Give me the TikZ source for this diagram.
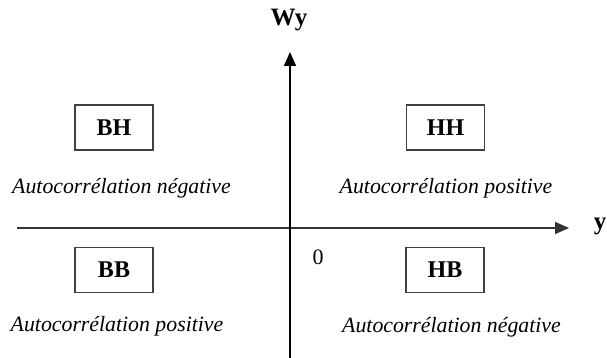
\documentclass[tikz,border=0pt]{standalone}
\usepackage{fontspec}
\setmainfont{Liberation Serif}
\usetikzlibrary{arrows.meta}
\begin{document}
\begin{tikzpicture}[x=1pt,y=-1pt,
  quad/.style={draw=black!75,line width=1.6pt,minimum width=78pt,minimum height=45pt,inner sep=0pt,font=\fontsize{24}{28}\selectfont\bfseries},
  lab/.style={font=\fontsize{21.8}{26}\selectfont\itshape,inner sep=0pt},
  axis/.style={line width=1.5pt,-{Triangle[length=14pt,width=12pt]}}]
\useasboundingbox (0,0) rectangle (607,358);
\coordinate (xs) at (17,228);
\coordinate (xe) at (569,228);
\coordinate (ys) at (290,358);
\coordinate (ye) at (290,52);
\draw[axis,black!80] (xs) -- (xe);
\draw[axis] (ys) -- (ye);
\node[font=\fontsize{25}{30}\selectfont\bfseries,inner sep=0pt] (wy) at (289,20) {Wy};
\node[font=\fontsize{25}{30}\selectfont\bfseries,inner sep=0pt,anchor=east] (y) at (606.5,226) {y};
\node[font=\fontsize{22}{26}\selectfont,inner sep=0pt] (o) at (318,257) {0};
\node[quad] (bh) at (114,127.5) {BH};
\node[quad] (hh) at (445.5,127.5) {HH};
\node[quad] (bb) at (114,270) {BB};
\node[quad] (hb) at (445,270) {HB};
\node[lab] (l1) at (121.5,188) {Autocorrélation négative};
\node[lab] (l2) at (446,188) {Autocorrélation positive};
\node[lab] (l3) at (117,326) {Autocorrélation positive};
\node[lab] (l4) at (451.5,327) {Autocorrélation négative};
\end{tikzpicture}
\end{document}
